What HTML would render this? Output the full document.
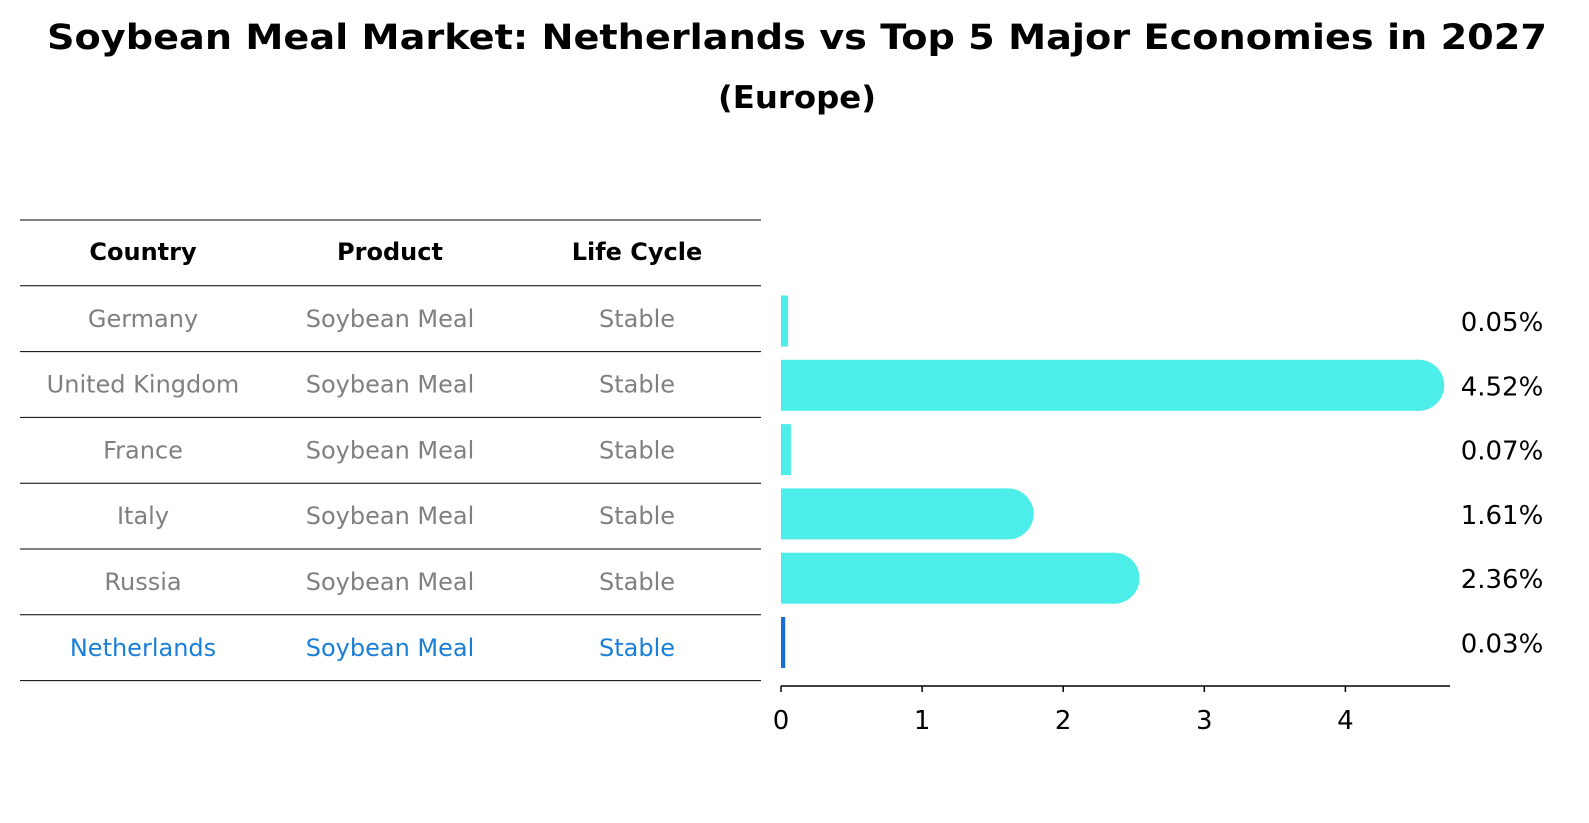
<!DOCTYPE html>
<html><head><meta charset="utf-8"><style>
body{margin:0;background:#fff;font-family:"Liberation Sans","DejaVu Sans",sans-serif;}
svg{display:block}
</style></head><body>
<svg width="1589" height="823" viewBox="0 0 1589 823" xmlns="http://www.w3.org/2000/svg">
<text x="797" y="49" text-anchor="middle" font-family="DejaVu Sans, Liberation Sans, sans-serif" font-weight="bold" font-size="35" textLength="1500" lengthAdjust="spacingAndGlyphs">Soybean Meal Market: Netherlands vs Top 5 Major Economies in 2027</text>
<text x="797" y="108" text-anchor="middle" font-family="DejaVu Sans, Liberation Sans, sans-serif" font-weight="bold" font-size="31" textLength="158" lengthAdjust="spacingAndGlyphs">(Europe)</text>
<g id="table"></g>
<g id="bars"></g>
</svg>
<script>
const countries=["Germany","United Kingdom","France","Italy","Russia","Netherlands"];
const products=["Soybean Meal","Soybean Meal","Soybean Meal","Soybean Meal","Soybean Meal","Soybean Meal"];
const lifecycles=["Stable","Stable","Stable","Stable","Stable","Stable"];
const values=[0.05,4.52,0.07,1.61,2.36,0.03];
const ticks=[0,1,2,3,4];
const NS="http://www.w3.org/2000/svg";
function mk(t,a,p){const e=document.createElementNS(NS,t);for(const k in a)e.setAttribute(k,a[k]);p.appendChild(e);return e;}
const tbl=document.getElementById('table'),bars=document.getElementById('bars');
const F="DejaVu Sans, Liberation Sans, sans-serif";
const colX=[143,390,637];
const rowY=i=>253+65.8*(i+1);
for(let i=0;i<=7;i++){const y=220+i*65.8;const l=mk('line',{x1:20,x2:761,y1:y,y2:y,stroke:'#000','stroke-width':1},tbl);

}
["Country","Product","Life Cycle"].forEach((h,j)=>{const t=mk('text',{x:colX[j],y:260,'text-anchor':'middle','font-family':F,'font-weight':'bold','font-size':24},tbl);t.textContent=h;

});
countries.forEach((c,i)=>{const col=i===countries.length-1?'#1a7fd6':'#808080';
[c,products[i],lifecycles[i]].forEach((v,j)=>{const t=mk('text',{x:colX[j],y:rowY(i)+8,'text-anchor':'middle','font-family':F,'font-size':24,fill:col},tbl);t.textContent=v;

});});
const x0=781,sc=141.1;const xs=v=>x0+v*sc;
const cy=i=>321+64.3*i;const bh=51,r=25.5;
values.forEach((v,i)=>{const last=i===values.length-1;const w=v*sc;
const g=mk('g',{},bars);


mk('rect',{x:x0,y:cy(i)-bh/2,width:w,height:bh,fill:last?'#1a6fd6':'#4deeea'},g);
if(w>r) mk('circle',{cx:xs(v),cy:cy(i),r:r,fill:'#4deeea'},g);
const t=mk('text',{x:1502,y:cy(i)+10,'text-anchor':'middle','font-family':F,'font-size':26},bars);t.textContent=v.toFixed(2)+'%';

});
const ax=mk('line',{x1:x0,x2:1450,y1:686,y2:686,stroke:'#000','stroke-width':1.5},bars);


ticks.forEach(tv=>{mk('line',{x1:xs(tv),x2:xs(tv),y1:686,y2:692,stroke:'#000','stroke-width':1.5},bars);
const t=mk('text',{x:xs(tv),y:729,'text-anchor':'middle','font-family':F,'font-size':26},bars);t.textContent=tv;

});
</script>
</body></html>
